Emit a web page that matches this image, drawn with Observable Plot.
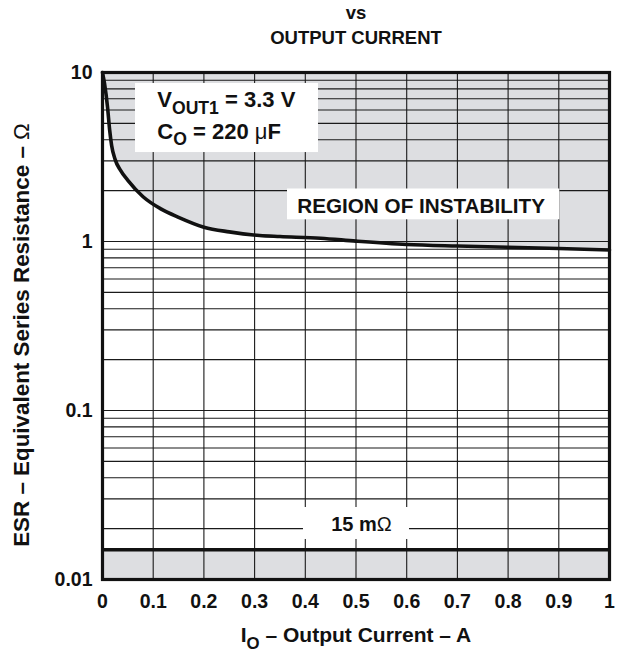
<!DOCTYPE html>
<html>
<head>
<meta charset="utf-8">
<script src="https://cdn.jsdelivr.net/npm/d3@7"></script>
<script src="https://cdn.jsdelivr.net/npm/@observablehq/plot@0.6"></script>
<style>
  body { margin: 0; background: #fff; }
  #title {
    width: 618px; box-sizing: border-box; padding-left: 94px; height: 50px;
    text-align: center; color: #111;
    font: bold 18.5px/25px "Liberation Sans", Arial, Helvetica, sans-serif;
  }
</style>
</head>
<body>
<div id="title"><div>vs</div><div>OUTPUT CURRENT</div></div>
<div id="chart"></div>
<script>
// ---- data ----
const titleLines = ["vs", "OUTPUT CURRENT"];
const xDomain = [0, 1];
const yDomain = [0.01, 10];
const xTicks = [0, 0.1, 0.2, 0.3, 0.4, 0.5, 0.6, 0.7, 0.8, 0.9, 1];
const xTickLabels = ["0", "0.1", "0.2", "0.3", "0.4", "0.5", "0.6", "0.7", "0.8", "0.9", "1"];
const yTicks = [0.01, 0.1, 1, 10];
const yTickLabels = ["0.01", "0.1", "1", "10"];
const yGrid = [0.02, 0.03, 0.04, 0.05, 0.06, 0.07, 0.08, 0.09, 0.1,
               0.2, 0.3, 0.4, 0.5, 0.6, 0.7, 0.8, 0.9, 1,
               2, 3, 4, 5, 6, 7, 8, 9, 10];

// stability boundary (ESR vs output current)
const currentA = [0, 0.004, 0.010, 0.014, 0.018, 0.025, 0.035, 0.05, 0.08, 0.115, 0.15, 0.2, 0.25, 0.31, 0.35, 0.43, 0.5, 0.6, 0.7, 0.8, 0.9, 1.0];
const esrOhm   = [10, 8.6, 6.2, 4.6, 3.7, 3.05, 2.65, 2.3, 1.84, 1.56, 1.39, 1.215, 1.14, 1.085, 1.07, 1.045, 1.005, 0.96, 0.94, 0.925, 0.909, 0.891];
const minStableEsr = 0.015;

// annotations
const noteText = ["V_{OUT1} = 3.3 V", "C_{O} = 220 μF"];
const noteX = [0.108, 0.108];
const noteY = [6.85, 4.47];
const regionNote = ["REGION OF INSTABILITY"];
const regionNoteX = [0.384];
const regionNoteY = [1.604];
const floorNote = ["15 mΩ"];
const floorNoteX = [0.5107];
const floorNoteY = [0.0211];
const boxX1 = [0.0651, 0.3649, 0.3964];
const boxX2 = [0.426, 0.902, 0.6055];
const boxY1 = [3.36, 1.344, 0.01725];
const boxY2 = [8.61, 2.045, 0.02667];
const xAxisLabel = "I_{O} – Output Current – A";
const yAxisLabel = "ESR – Equivalent Series Resistance – Ω";

// ---- tables ----
const curve = currentA.map((a, i) => ({a, esr: esrOhm[i]}));
const notes = noteText.map((t, i) => ({t, x: noteX[i], y: noteY[i]}));
const regionNotes = regionNote.map((t, i) => ({t, x: regionNoteX[i], y: regionNoteY[i]}));
const floorNotes = floorNote.map((t, i) => ({t, x: floorNoteX[i], y: floorNoteY[i]}));
const boxes = boxX1.map((x1, i) => ({x1, x2: boxX2[i], y1: boxY1[i], y2: boxY2[i]}));
const floorRegion = [{x1: xDomain[0], x2: xDomain[1], y1: yDomain[0], y2: minStableEsr}];
const lookup = (ticks, labels) => d => labels[ticks.findIndex(t => Math.abs(t - d) < 1e-9)];

const ink = "#111";
const gray = "#dddee1";

const plot = Plot.plot({
  width: 618,
  height: 602,
  marginTop: 22,
  marginBottom: 73,
  marginLeft: 102,
  marginRight: 9,
  style: {
    fontFamily: '"Liberation Sans", Arial, Helvetica, sans-serif',
    fontSize: "19.5px",
    fontWeight: "bold",
    color: ink,
    background: "white",
    overflow: "visible"
  },
  x: {domain: xDomain, ticks: xTicks, tickFormat: lookup(xTicks, xTickLabels), tickSize: 0, tickPadding: 15, label: null},
  y: {type: "log", domain: yDomain, ticks: yTicks, tickFormat: lookup(yTicks, yTickLabels), tickSize: 0, tickPadding: 10, label: null},
  marks: [
    Plot.areaY(curve, {x: "a", y1: "esr", y2: yDomain[1], fill: gray, curve: "monotone-x"}),
    Plot.rect(floorRegion, {x1: "x1", x2: "x2", y1: "y1", y2: "y2", fill: gray}),
    Plot.ruleY(yGrid, {stroke: "#1a1a1a", strokeWidth: 1.1}),
    Plot.ruleX(xTicks, {stroke: "#1a1a1a", strokeWidth: 1.1}),
    Plot.rect(boxes, {x1: "x1", x2: "x2", y1: "y1", y2: "y2", fill: "white"}),
    Plot.line(curve, {x: "a", y: "esr", stroke: ink, strokeWidth: 3.6, curve: "monotone-x"}),
    Plot.ruleY([minStableEsr], {stroke: ink, strokeWidth: 3.3}),
    Plot.frame({stroke: ink, strokeWidth: 3.2}),
    Plot.text(notes, {x: "x", y: "y", text: "t", textAnchor: "start", lineAnchor: "middle", fontSize: 22, fill: ink}),
    Plot.text(regionNotes, {x: "x", y: "y", text: "t", textAnchor: "start", lineAnchor: "middle", fontSize: 20.7, fill: ink}),
    Plot.text(floorNotes, {x: "x", y: "y", text: "t", textAnchor: "middle", lineAnchor: "middle", fontSize: 20, fill: ink}),
    Plot.text([xAxisLabel], {text: d => d, frameAnchor: "bottom", textAnchor: "middle", lineAnchor: "middle", dy: 56, fontSize: 21, fill: ink}),
    Plot.text([yAxisLabel], {text: d => d, frameAnchor: "left", textAnchor: "middle", lineAnchor: "middle", rotate: -90, dx: -80.7, dy: 9, fontSize: 22.4, fill: ink})
  ]
});

document.getElementById("chart").appendChild(plot);

// rich text: subscripts _{..} and light-weight symbol glyphs
function richify(el) {
  const src = el.textContent;
  if (!/_\{|[Ωμ]/.test(src)) return;
  const fs = parseFloat(getComputedStyle(el).fontSize) || 20;
  const shift = 0.3 * fs;
  const sel = d3.select(el);
  sel.text("");
  const re = /_\{([^}]*)\}|([Ωμ])|([^_Ωμ]+)/g;
  let m, down = false;
  while ((m = re.exec(src))) {
    const ts = sel.append("tspan");
    if (m[1] !== undefined) {
      ts.text(m[1]).attr("font-size", (fs * 0.8) + "px").attr("dy", shift);
      down = true;
    } else {
      ts.text(m[2] || m[3]);
      if (m[2]) ts.attr("font-weight", "normal");
      if (down) { ts.attr("dy", -shift); down = false; }
    }
  }
}
plot.querySelectorAll("text").forEach(richify);
</script>
</body>
</html>
